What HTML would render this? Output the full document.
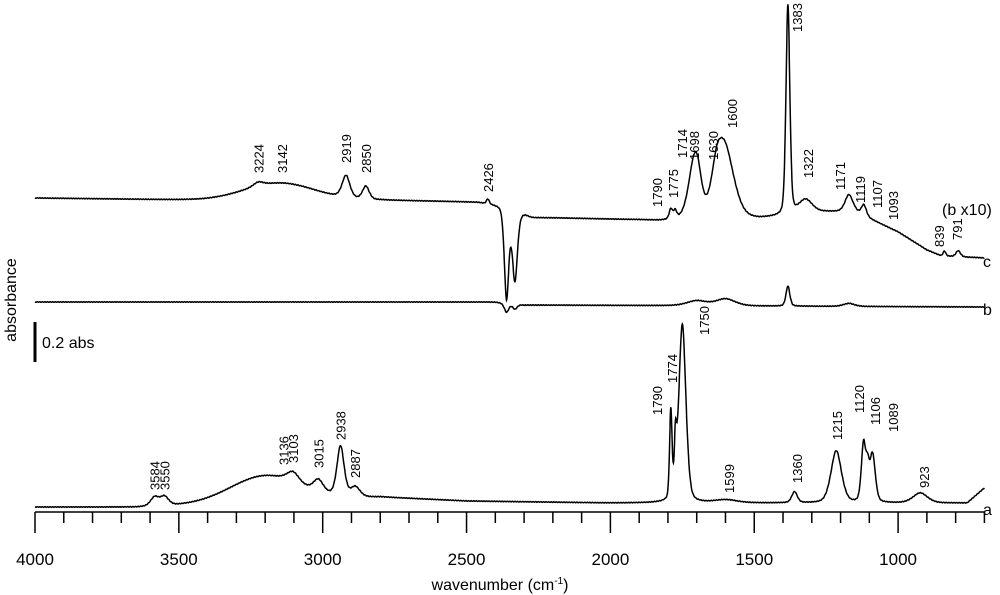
<!DOCTYPE html>
<html><head><meta charset="utf-8"><style>
body{margin:0;background:#fff;}
svg{display:block;font-family:"Liberation Sans",sans-serif;}
</style></head><body>
<svg id="s" width="1000" height="595" viewBox="0 0 1000 595" xmlns="http://www.w3.org/2000/svg">
<g id="axis" stroke="#000" stroke-width="1.5" fill="none"></g>
<g id="curves" stroke="#000" stroke-width="1.5" fill="none"></g>
<g id="labels" font-size="13" fill="#000"></g>
<line x1="35" y1="322" x2="35" y2="362" stroke="#000" stroke-width="3"/>
<text x="42" y="348" font-size="16">0.2 abs</text>
<text transform="translate(16,300) rotate(-90)" text-anchor="middle" font-size="16">absorbance</text>
<text x="500" y="590" text-anchor="middle" font-size="16">wavenumber (cm<tspan dy="-6" font-size="10">-1</tspan><tspan dy="6">)</tspan></text>
<text x="942" y="215" font-size="16">(b x10)</text>
<text x="983" y="267" font-size="16">c</text>
<text x="983" y="315" font-size="16">b</text>
<text x="983" y="515" font-size="16">a</text>
</svg>
<script>
var NS="http://www.w3.org/2000/svg";
function X(w){return 35+(4000-w)*0.2877;}
function el(p,t,a,txt){var e=document.createElementNS(NS,t);for(var k in a)e.setAttribute(k,a[k]);if(txt)e.textContent=txt;document.getElementById(p).appendChild(e);return e;}
el("axis","line",{x1:35,y1:512,x2:984,y2:512});
for(var w=4000;w>=700;w-=100){var L=(w%500==0)?21:11;el("axis","line",{x1:X(w),y1:512,x2:X(w),y2:512+L});}
for(var w=4000;w>=1000;w-=500){el("labels","text",{x:X(w),y:565,"text-anchor":"middle","font-size":"17"},String(w));}
function interp(pts,w){for(var i=0;i<pts.length-1;i++){var a=pts[i],b=pts[i+1];if(w<=a[0]&&w>=b[0]){var t=(a[0]-w)/(a[0]-b[0]);return a[1]+(b[1]-a[1])*t;}}return pts[pts.length-1][1];}
function pk(p,w){var d=(w-p[0])/p[2];return p[1]*(0.65*Math.exp(-d*d/2)+0.35/(1+d*d));}
function gs(p,w){var d=(w-p[0])/p[2];return p[1]*Math.exp(-d*d/2);}
function curve(base,peaks,hums){var d="";for(var w=4000;w>=700;w-=1){var y=interp(base,w);peaks.forEach(function(p){y-=pk(p,w);});(hums||[]).forEach(function(p){y-=gs(p,w);});y+=Math.sin(w*0.7)*0.3;d+=(w==4000?"M":"L")+X(w).toFixed(1)+" "+y.toFixed(1);}el("curves","path",{d:d});}
curve([[4000,507],[3650,507],[2800,497],[2500,501],[2000,503],[1000,503],[760,503],[700,488]],
[[3584,9,15],[3550,9,15],[3103,10,22],[3015,12,18],[2938,50,13],[2887,10,17],[1790,88,4.5],[1774,45,4],[1750,178,13],[1599,3,40],[1360,11,10],[1215,52,19],[1120,58,8],[1106,25,6],[1089,48,10],[923,10,26]],
[[3200,26,120]]);
curve([[4000,198],[3400,200],[2800,200],[2460,202],[2380,205],[2300,217],[1900,220],[1830,221],[1480,219],[1250,212],[1150,212],[1000,232],[900,250],[850,256],[700,258]],
[[3224,4,18],[2919,22,14],[2850,13,12],[2426,5,5],[2361,-90,8],[2332,-68,9],[2300,4,14],[1790,10,6],[1775,8,6],[1714,38,20],[1698,36,16],[1630,33,20],[1600,66,32],[1383,210,7],[1322,14,25],[1171,17,14],[1119,11,9],[839,5,5],[791,6,8]],
[[3150,17,120]]);
curve([[4000,302],[2400,302],[2300,305],[700,307]],
[[2361,-9,8],[2332,-5,8],[1700,5,35],[1600,7,35],[1383,20,7],[1171,3,20]],[]);
function lab(x,yb,t){el("labels","text",{x:x,y:yb,transform:"rotate(-90 "+x+" "+yb+")"},t);}
[[3224,173],[3142,173],[2919,163],[2850,173],[2426,192]].forEach(function(a){lab(X(a[0])+5,a[1],String(a[0]));});
[[662,207,"1790"],[678,198,"1775"],[687,158,"1714"],[699,160,"1698"],[718,160,"1630"],[737,128,"1600"],[802,32,"1383"],[813,178,"1322"],[845,190,"1171"],[865,203,"1119"],[882,208,"1107"],[898,220,"1093"],[944,247,"839"],[962,240,"791"],
[662,415,"1790"],[677,383,"1774"],[709,335,"1750"],[734,493,"1599"],[802,483,"1360"],[842,440,"1215"],[864,413,"1120"],[880,425,"1106"],[898,432,"1089"],[929,488,"923"]].forEach(function(a){lab(a[0],a[1],a[2]);});
[[3584,490],[3550,490],[3136,465],[3103,463],[3015,468],[2938,440],[2887,478]].forEach(function(a){lab(X(a[0])+5,a[1],String(a[0]));});
</script>
</body></html>
